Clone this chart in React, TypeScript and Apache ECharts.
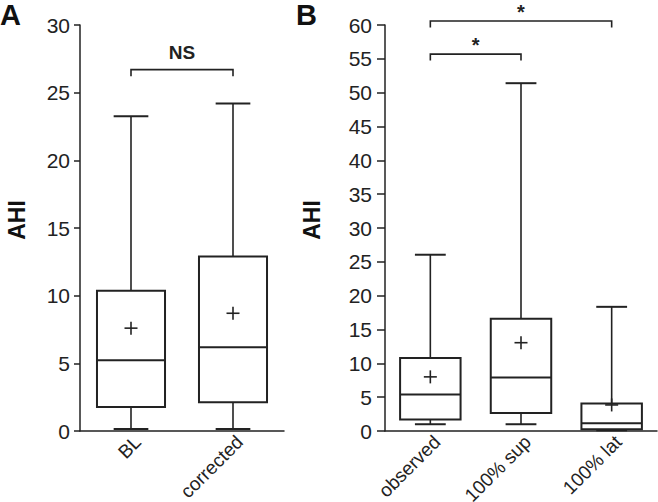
import React, { useEffect, useRef } from "react";
import * as echarts from "echarts";

// Panel A
const catsA = ["BL", "corrected"];
const minA = [0.15, 0.15];
const q1A = [1.77, 2.12];
const medA = [5.22, 6.18];
const q3A = [10.37, 12.9];
const maxA = [23.25, 24.2];
const meanA = [7.6, 8.7];

// Panel B
const catsB = ["observed", "100% sup", "100% lat"];
const minB = [1.0, 1.0, 0.1];
const q1B = [1.7, 2.65, 0.25];
const medB = [5.4, 7.9, 1.15];
const q3B = [10.8, 16.6, 4.05];
const maxB = [26.05, 51.4, 18.35];
const meanB = [8.0, 13.05, 3.85];

// Significance brackets: [from category, to category, height]
const bracketsA = [[0, 1, 26.7]];
const bracketLabelsA = ["NS"];
const bracketsB = [
  [0, 1, 55.7],
  [0, 2, 60.6],
];
const bracketLabelsB = ["*", "*"];

const FONT = "'Liberation Sans', Arial, sans-serif";
const INK = "#222";

function boxRows(mins: number[], q1: number[], med: number[], q3: number[], max: number[], mean: number[]) {
  return mins.map((_, i) => [i, mins[i], q1[i], med[i], q3[i], max[i], mean[i]]);
}

function renderBox(params: any, api: any) {
  const x = api.value(0);
  const pMin = api.coord([x, api.value(1)]);
  const pQ1 = api.coord([x, api.value(2)]);
  const pMed = api.coord([x, api.value(3)]);
  const pQ3 = api.coord([x, api.value(4)]);
  const pMax = api.coord([x, api.value(5)]);
  const pMean = api.coord([x, api.value(6)]);
  const band = api.size([1, 0])[0];
  const bw = band * 0.667;
  const cw = band * 0.34;
  const cx = pMin[0];
  const cross = 6.5;
  const ls = { stroke: INK, lineWidth: 1.6, fill: "none" };
  const bs = { stroke: INK, lineWidth: 2, fill: "none" };
  return {
    type: "group",
    children: [
      { type: "line", shape: { x1: cx, y1: pQ3[1], x2: cx, y2: pMax[1] }, style: ls },
      { type: "line", shape: { x1: cx, y1: pQ1[1], x2: cx, y2: pMin[1] }, style: ls },
      { type: "line", shape: { x1: cx - cw / 2, y1: pMax[1], x2: cx + cw / 2, y2: pMax[1] }, style: bs },
      { type: "line", shape: { x1: cx - cw / 2, y1: pMin[1], x2: cx + cw / 2, y2: pMin[1] }, style: bs },
      { type: "rect", shape: { x: cx - bw / 2, y: pQ3[1], width: bw, height: pQ1[1] - pQ3[1] }, style: bs },
      { type: "line", shape: { x1: cx - bw / 2, y1: pMed[1], x2: cx + bw / 2, y2: pMed[1] }, style: bs },
      { type: "line", shape: { x1: cx - cross, y1: pMean[1], x2: cx + cross, y2: pMean[1] }, style: ls },
      { type: "line", shape: { x1: cx, y1: pMean[1] - cross, x2: cx, y2: pMean[1] + cross }, style: ls },
    ],
  };
}

function makeBracketRenderer(labels: string[], fontSize: number, textOffset: number) {
  return (params: any, api: any) => {
    const y = api.value(2);
    const p1 = api.coord([api.value(0), y]);
    const p2 = api.coord([api.value(1), y]);
    const drop = 6.5;
    return {
      type: "group",
      children: [
        {
          type: "polyline",
          shape: { points: [[p1[0], p1[1] + drop], [p1[0], p1[1]], [p2[0], p2[1]], [p2[0], p2[1] + drop]] },
          style: { stroke: INK, lineWidth: 1.6, fill: "none" },
        },
        {
          type: "text",
          x: (p1[0] + p2[0]) / 2,
          y: p1[1] - textOffset,
          style: {
            text: labels[params.dataIndex],
            fontSize,
            fontWeight: "bold",
            fontFamily: FONT,
            fill: INK,
            align: "center",
            verticalAlign: "middle",
          },
        },
      ],
    };
  };
}

function yAxisCfg(gridIndex: number, max: number, tickLen: number, margin: number) {
  return {
    type: "value",
    gridIndex,
    min: 0,
    max,
    interval: 5,
    axisLine: { show: true, lineStyle: { color: INK, width: 1.5 } },
    axisTick: { show: true, length: tickLen, lineStyle: { color: INK, width: 1.5 } },
    axisLabel: { fontSize: 21, color: INK, fontFamily: FONT, margin },
    splitLine: { show: false },
  };
}

function xAxisCfg(gridIndex: number, data: string[]) {
  return {
    type: "category",
    gridIndex,
    data,
    axisLine: { show: true, lineStyle: { color: INK, width: 1.5 } },
    axisTick: { show: false },
    axisLabel: { rotate: 45, fontSize: 19, color: INK, fontFamily: FONT, margin: 1, verticalAlign: "top" },
  };
}

export default function App() {
  const ref = useRef<HTMLDivElement>(null);
  useEffect(() => {
    if (!ref.current) return;
    const chart = echarts.init(ref.current, null, { renderer: "svg" });
    chart.setOption({
      animation: false,
      backgroundColor: "#fff",
      grid: [
        { left: 80, top: 25, width: 204, height: 406, outerBoundsMode: "none", containLabel: false },
        { left: 385, top: 25, width: 272, height: 406, outerBoundsMode: "none", containLabel: false },
      ],
      xAxis: [xAxisCfg(0, catsA), xAxisCfg(1, catsB)],
      yAxis: [yAxisCfg(0, 30, 6, 10), yAxisCfg(1, 60, 8, 13)],
      graphic: [
        { type: "text", left: 0, top: 0, style: { text: "A", fontSize: 29, fontWeight: "bold", fontFamily: FONT, fill: "#111" } },
        { type: "text", left: 296, top: 0, style: { text: "B", fontSize: 29, fontWeight: "bold", fontFamily: FONT, fill: "#111" } },
        {
          type: "text", x: 17, y: 220, rotation: Math.PI / 2,
          style: { text: "AHI", fontSize: 23, fontWeight: "bold", fontFamily: FONT, fill: "#111", align: "center", verticalAlign: "middle" },
        },
        {
          type: "text", x: 312, y: 220, rotation: Math.PI / 2,
          style: { text: "AHI", fontSize: 23, fontWeight: "bold", fontFamily: FONT, fill: "#111", align: "center", verticalAlign: "middle" },
        },
      ],
      series: [
        {
          type: "custom",
          xAxisIndex: 0,
          yAxisIndex: 0,
          data: boxRows(minA, q1A, medA, q3A, maxA, meanA),
          encode: { x: 0, y: [1, 2, 3, 4, 5, 6] },
          renderItem: renderBox,
          clip: false,
        },
        {
          type: "custom",
          xAxisIndex: 1,
          yAxisIndex: 1,
          data: boxRows(minB, q1B, medB, q3B, maxB, meanB),
          encode: { x: 0, y: [1, 2, 3, 4, 5, 6] },
          renderItem: renderBox,
          clip: false,
        },
        {
          type: "custom",
          xAxisIndex: 0,
          yAxisIndex: 0,
          data: bracketsA,
          encode: { x: [0, 1], y: 2 },
          renderItem: makeBracketRenderer(bracketLabelsA, 19, 17),
          clip: false,
        },
        {
          type: "custom",
          xAxisIndex: 1,
          yAxisIndex: 1,
          data: bracketsB,
          encode: { x: [0, 1], y: 2 },
          renderItem: makeBracketRenderer(bracketLabelsB, 20, 9),
          clip: false,
        },
      ],
    });
    return () => chart.dispose();
  }, []);
  return <div ref={ref} style={{ position: "fixed", left: 0, top: 0, width: 658, height: 502 }} />;
}
